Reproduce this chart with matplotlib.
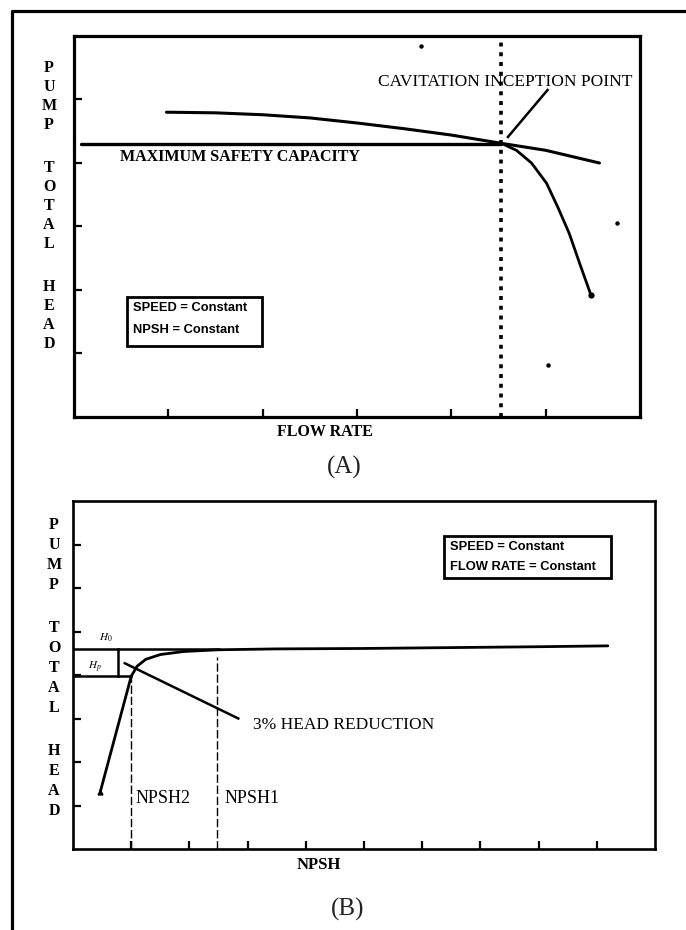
import numpy as np
import matplotlib.pyplot as plt
from matplotlib.lines import Line2D
from matplotlib.patches import Rectangle

# (A) pump head against flow rate
head_x = [0.98, 1.5, 2.0, 2.5, 3.0, 3.5, 4.0, 4.53, 5.0, 5.57]
head_y = [4.80, 4.79, 4.76, 4.71, 4.63, 4.54, 4.44, 4.31, 4.20, 4.00]
cav_x = [4.53, 4.69, 4.85, 5.01, 5.13, 5.25, 5.36, 5.48]
cav_y = [4.31, 4.20, 4.00, 3.68, 3.30, 2.89, 2.42, 1.92]
safety_x = [0.07, 4.53]
safety_y = [4.30, 4.30]
inception_x = 4.53
specks_x = [3.68, 5.76, 5.02]
specks_y = [5.84, 3.06, 0.82]

# (B) pump head against NPSH
npsh_x = [0.47, 1.0, 1.1, 1.25, 1.5, 1.9, 2.5, 3.5, 5.0, 6.5, 8.0, 9.19]
npsh_y = [1.32, 3.97, 4.20, 4.36, 4.47, 4.54, 4.58, 4.60, 4.61, 4.63, 4.65, 4.67]
h0 = 4.60
hp = 3.97
npsh2 = 1.0
npsh1 = 2.47

ylabel_words = ['PUMP', 'TOTAL', 'HEAD']

W, H = 686, 930
def fx(x): return x / W
def fy(y): return 1 - y / H

plt.rc('font', family='Liberation Serif', size=11)
plt.rc('mathtext', fontset='stix')
serif = 'Liberation Serif'
sans = 'Liberation Sans'

fig = plt.figure(figsize=(W / 100, H / 100), dpi=100)

# page frame (only left and top edges survive)
fig.add_artist(Line2D([fx(12), fx(12), fx(686)], [fy(930), fy(11), fy(11)],
                      transform=fig.transFigure, color='k', lw=2.3))


def setup(ax, nx, ny, lw):
    ax.set_xlim(0, nx)
    ax.set_ylim(0, ny)
    ax.set_xticks(np.arange(1, nx))
    ax.set_yticks(np.arange(1, ny))
    ax.tick_params(direction='in', length=5.5, width=1.6, labelbottom=False,
                   labelleft=False, top=False, right=False)
    for s in ax.spines.values():
        s.set_linewidth(lw)


def stack_label(x, y0, step, gap):
    y = y0
    for w in ylabel_words:
        for ch in w:
            fig.text(fx(x), fy(y), ch, ha='center', va='center', family=serif,
                     weight='bold', fontsize=11.5)
            y += step
        y += gap


# ---- panel A
axA = fig.add_axes([fx(74), fy(417), (640 - 74) / W, (417 - 36) / H])
setup(axA, 6, 6, 2.3)
axA.plot(head_x, head_y, 'k', lw=2.2, solid_capstyle='round')
axA.plot(cav_x, cav_y, 'k', lw=2.0, solid_capstyle='round')
axA.plot(cav_x[-1], cav_y[-1], 'ko', ms=3.5)
axA.plot(safety_x, safety_y, 'k', lw=2.4, solid_capstyle='round')
axA.axvline(inception_x, color='k', lw=2.6, linestyle=(0, (1.1, 1.6)))
axA.plot(specks_x, specks_y, 'ko', ms=2.2, ls='none')
axA.plot([4.60, 5.02], [4.41, 5.15], 'k', lw=1.8)
axA.text(5.92, 5.28, 'CAVITATION INCEPTION POINT', ha='right', va='center',
         family=serif, fontsize=12.5)
axA.text(0.49, 4.09, 'MAXIMUM SAFETY CAPACITY', ha='left', va='center',
         family=serif, fontsize=11.5, weight='bold')
axA.add_patch(Rectangle((0.094, 0.186), 0.238, 0.129, transform=axA.transAxes,
                        fill=False, lw=2.0, ec='k'))
axA.text(0.104, 0.285, 'SPEED = Constant', transform=axA.transAxes, va='center',
         family=sans, weight='bold', fontsize=9.3)
axA.text(0.104, 0.228, 'NPSH = Constant', transform=axA.transAxes, va='center',
         family=sans, weight='bold', fontsize=9.3)
fig.text(fx(325), fy(432), 'FLOW RATE', ha='center', va='center', family=serif,
         weight='bold', fontsize=11.5)
fig.text(fx(344), fy(467), '(A)', ha='center', va='center', family=serif,
         fontsize=18, color='#222222')
stack_label(49, 68, 19, 24)

# ---- panel B
axB = fig.add_axes([fx(73), fy(849), (655 - 73) / W, (849 - 501) / H])
setup(axB, 10, 8, 1.9)
axB.plot(npsh_x, npsh_y, 'k', lw=2.0, solid_capstyle='round')
axB.plot(npsh_x[:1], npsh_y[:1], 'k^', ms=3.5)
axB.plot([0, 2.5], [h0, h0], 'k', lw=1.8)
axB.plot([0, npsh2], [hp, hp], 'k', lw=1.8)
axB.plot([0.77, 0.77], [hp, h0], 'k', lw=1.8)
axB.plot([npsh2, npsh2], [0, hp], 'k', lw=1.0, ls=(0, (6, 2)))
axB.plot([npsh1, npsh1], [0, 4.42], 'k', lw=1.0, ls=(0, (6, 2)))
axB.plot([0.89, 2.84], [4.27, 3.0], 'k', lw=1.8)
axB.text(0.57, 4.85, '$H_0$', ha='center', va='center', fontsize=8, weight='bold')
axB.text(0.37, 4.18, '$H_p$', ha='center', va='center', fontsize=8, weight='bold')
axB.text(3.09, 2.85, '3% HEAD REDUCTION', ha='left', va='center', family=serif,
         fontsize=12.5)
axB.text(1.08, 1.17, 'NPSH2', ha='left', va='center', family=serif, fontsize=13)
axB.text(2.61, 1.17, 'NPSH1', ha='left', va='center', family=serif, fontsize=13)
axB.add_patch(Rectangle((0.637, 0.779), 0.287, 0.120, transform=axB.transAxes,
                        fill=False, lw=2.0, ec='k'))
axB.text(0.648, 0.868, 'SPEED = Constant', transform=axB.transAxes, va='center',
         family=sans, weight='bold', fontsize=9.3)
axB.text(0.648, 0.810, 'FLOW RATE = Constant', transform=axB.transAxes, va='center',
         family=sans, weight='bold', fontsize=9.3)
fig.text(fx(319), fy(865), 'NPSH', ha='center', va='center', family=serif,
         weight='bold', fontsize=12)
fig.text(fx(348), fy(909), '(B)', ha='center', va='center', family=serif,
         fontsize=18, color='#222222')
stack_label(54, 525, 20, 23)

fig.savefig('out.png', dpi=100)
